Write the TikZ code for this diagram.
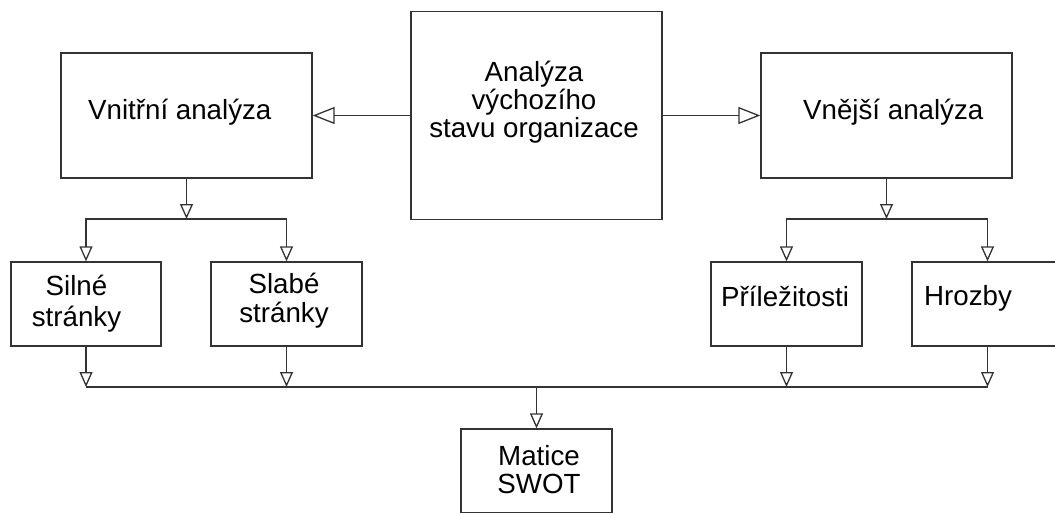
\documentclass[tikz,border=0pt]{standalone}
\usepackage{fontspec}
\setmainfont{Liberation Sans}
\usetikzlibrary{arrows.meta}
\begin{document}
\begin{tikzpicture}[x=1pt,y=-1pt,
  box/.style={draw=black!80, line width=1.3pt, rectangle, inner sep=0pt, fill=white},
  bigbox/.style={box, minimum width=251pt, minimum height=125pt},
  smallbox/.style={box, minimum width=151pt, minimum height=84pt},
  txt/.style={font=\fontsize{27.7}{28}\selectfont, inner sep=0pt, align=center, text=black},
  conn/.style={draw=black!80, line width=1.3pt},
  harrow/.style={conn, -{Triangle[open, length=22pt, width=17pt]}},
  varrow/.style={conn, -{Triangle[open, length=15pt, width=13pt]}}]
\useasboundingbox (0,0) rectangle (1055,512);
\clip (0,0) rectangle (1055,512);

% boxes
\node[box, minimum width=251pt, minimum height=208pt] (A) at (536.5,115.5) {};
\node[bigbox] (V1) at (186.5,115.5) {};
\node[bigbox] (V2) at (886.5,115.5) {};
\node[smallbox, minimum width=150pt] (S) at (86,304) {};
\node[smallbox] (W) at (286.5,304) {};
\node[smallbox] (O) at (786.5,304) {};
\node[smallbox] (T) at (987.5,304) {};
\node[smallbox] (M) at (536.5,471) {};

% texts (base anchor = baseline of the last line)
\node[txt, anchor=base] (At) at (534,137) {Analýza\\ výchozího\\ stavu organizace};
\node[txt, anchor=base west] (V1t) at (88,119) {Vnitřní analýza};
\node[txt, anchor=base west] (V2t) at (803,119) {Vnější analýza};
\node[txt, anchor=base] (St) at (76.5,326) {Silné\\[3pt] stránky};
\node[txt, anchor=base] (Wt) at (284,322) {Slabé\\[1pt] stránky};
\node[txt, anchor=base west] (Ot) at (721,306) {Příležitosti};
\node[txt, anchor=base west] (Tt) at (924,305) {Hrozby};
\node[txt, anchor=base] (Mt) at (539,493) {Matice\\ SWOT};

% junctions
\coordinate (j1) at (186.5,219);
\coordinate (j2) at (886.5,219);
\coordinate (jb) at (536.5,387);

% connectors
\draw[harrow] (A.west) -- (V1.east);
\draw[harrow] (A.east) -- (V2.west);
\draw[varrow] (V1.south) -- (j1);
\draw[varrow] (V2.south) -- (j2);
\draw[varrow] (j1) -| (S.north);
\draw[varrow] (j1) -| (W.north);
\draw[varrow] (j2) -| (O.north);
\draw[varrow] (j2) -| (T.north);
\draw[conn] (S.south |- jb) -- (T.south |- jb);
\draw[varrow] (S.south) -- (S.south |- jb);
\draw[varrow] (W.south) -- (W.south |- jb);
\draw[varrow] (O.south) -- (O.south |- jb);
\draw[varrow] (T.south) -- (T.south |- jb);
\draw[varrow] (jb) -- (M.north);
\end{tikzpicture}
\end{document}
